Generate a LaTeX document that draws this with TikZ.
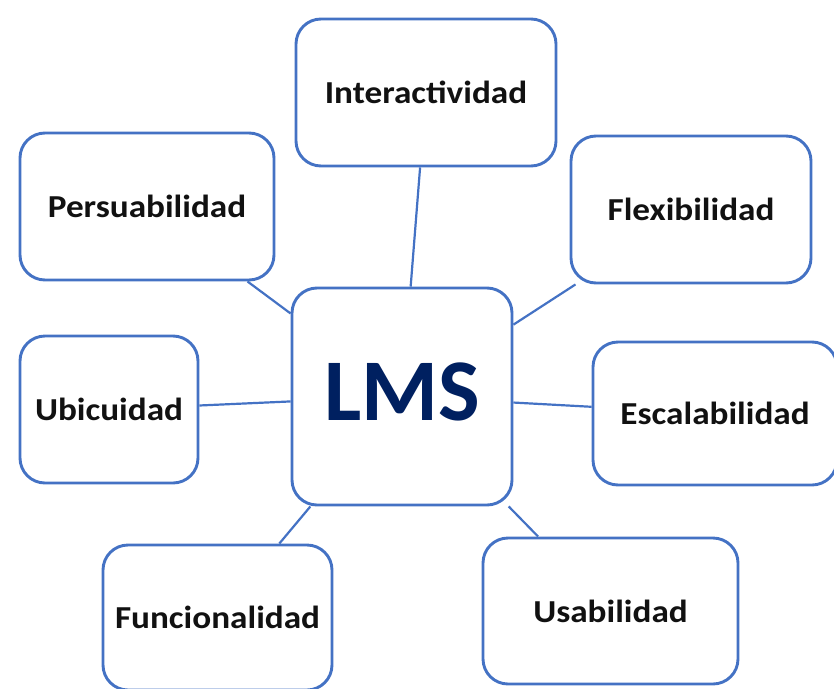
\documentclass[tikz,border=0pt]{standalone}
\usepackage{fontspec}
\setmainfont{Carlito}
\newfontfamily\rasgofont{Carlito}[FakeStretch=1.1]
\usepackage{xcolor}
\usepackage{tikz}

\definecolor{marco}{HTML}{4472C4}
\definecolor{azullms}{HTML}{002060}
\definecolor{texto}{HTML}{111111}

\begin{document}
\begin{tikzpicture}[x=1pt, y=-1pt,
    rasgo/.style={draw=marco, line width=2.9pt, rounded corners=25pt, fill=white, text=texto, font=\rasgofont\bfseries\fontsize{32}{38}\selectfont},
    enlace/.style={draw=marco, line width=2.2pt}]
    \useasboundingbox (0,0) rectangle (834,688);

    % LMS in the middle
    \node[rasgo, minimum width=220pt, minimum height=217pt, text depth=10pt, text=azullms, font=\bfseries\fontsize{88}{100}\selectfont] (lms) at (402,396.5) {LMS};

    % Top row
    \node[rasgo, minimum width=260pt, minimum height=147pt] (inter) at (426,92.5) {Interactividad};
    \node[rasgo, minimum width=254pt, minimum height=147pt] (persu) at (147,206.5) {Persuabilidad};
    \node[rasgo, minimum width=240pt, minimum height=147pt] (flexi) at (691,209.5) {Flexibilidad};

    % Sides
    \node[rasgo, minimum width=178pt, minimum height=147pt] (ubic) at (109,409.5) {Ubicuidad};
    \node[rasgo, minimum width=244pt, minimum height=143pt] (escal) at (715,413.5) {Escalabilidad};

    % Bottom row
    \node[rasgo, minimum width=229pt, minimum height=145pt] (func) at (217.5,617.5) {Funcionalidad};
    \node[rasgo, minimum width=255pt, minimum height=146pt] (usab) at (610.5,611) {Usabilidad};

    % Links
    \draw[enlace] (inter) -- (lms);
    \draw[enlace] (persu) -- (lms);
    \draw[enlace] (flexi) -- (lms);
    \draw[enlace] (ubic) -- (lms);
    \draw[enlace] (escal) -- (lms);
    \draw[enlace] (func) -- (lms);
    \draw[enlace] (usab) -- (lms);
\end{tikzpicture}
\end{document}
